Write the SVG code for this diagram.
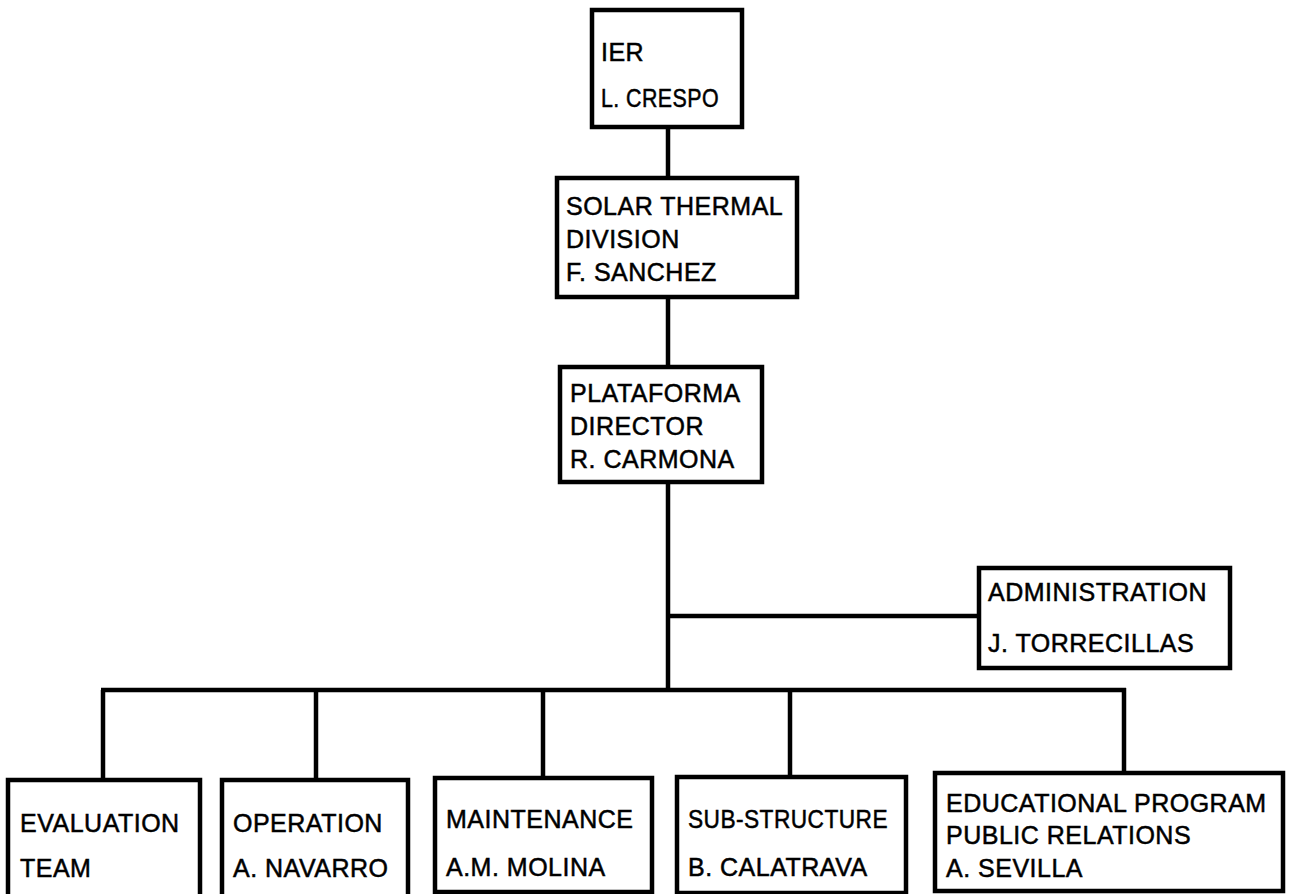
<svg xmlns="http://www.w3.org/2000/svg" width="1301" height="894" viewBox="0 0 1301 894">
<style>
.box{fill:#fff;stroke:#000;stroke-width:4.5}
.ln{stroke:#000;stroke-width:4.5;fill:none}
text{font-family:"Liberation Sans",Arial,sans-serif;font-size:25px;letter-spacing:0.5px;fill:#000;stroke:#000;stroke-width:0.5}
</style>
<rect width="1301" height="894" fill="#fff"/>
<g id="connectors">
<line class="ln" x1="668" y1="127" x2="668" y2="178"/>
<line class="ln" x1="668" y1="297" x2="668" y2="367"/>
<line class="ln" x1="668" y1="482" x2="668" y2="690"/>
<line class="ln" x1="668" y1="616" x2="979" y2="616"/>
<line class="ln" x1="101" y1="690" x2="1126" y2="690"/>
<line class="ln" x1="103" y1="690" x2="103" y2="780"/>
<line class="ln" x1="316" y1="690" x2="316" y2="780"/>
<line class="ln" x1="543" y1="690" x2="543" y2="778"/>
<line class="ln" x1="790" y1="690" x2="790" y2="778"/>
<line class="ln" x1="1124" y1="688" x2="1124" y2="773"/>
</g>
<g id="ier">
<rect class="box" x="592" y="10" width="150" height="117"/>
<text x="601" y="61">IER</text>
<text x="601" y="107" textLength="118" lengthAdjust="spacingAndGlyphs">L. CRESPO</text>
</g>
<g id="solar">
<rect class="box" x="557" y="178" width="240" height="119"/>
<text x="566" y="215">SOLAR THERMAL</text>
<text x="566" y="248">DIVISION</text>
<text x="566" y="281">F. SANCHEZ</text>
</g>
<g id="plataforma">
<rect class="box" x="560" y="367" width="202" height="115"/>
<text x="570" y="402">PLATAFORMA</text>
<text x="570" y="435">DIRECTOR</text>
<text x="570" y="468">R. CARMONA</text>
</g>
<g id="admin">
<rect class="box" x="979" y="568" width="251" height="100"/>
<text x="988" y="601">ADMINISTRATION</text>
<text x="988" y="652">J. TORRECILLAS</text>
</g>
<g id="evaluation">
<rect class="box" x="8" y="780" width="192" height="120"/>
<text x="20" y="832">EVALUATION</text>
<text x="20" y="877">TEAM</text>
</g>
<g id="operation">
<rect class="box" x="222" y="780" width="186" height="120"/>
<text x="233" y="832">OPERATION</text>
<text x="233" y="877">A. NAVARRO</text>
</g>
<g id="maintenance">
<rect class="box" x="435" y="778" width="217" height="114"/>
<text x="446" y="828">MAINTENANCE</text>
<text x="446" y="876">A.M. MOLINA</text>
</g>
<g id="substructure">
<rect class="box" x="677" y="777" width="229" height="116"/>
<text x="688" y="828" textLength="200" lengthAdjust="spacingAndGlyphs">SUB-STRUCTURE</text>
<text x="688" y="876">B. CALATRAVA</text>
</g>
<g id="educational">
<rect class="box" x="935" y="773" width="348" height="118"/>
<text x="946" y="812">EDUCATIONAL PROGRAM</text>
<text x="946" y="844">PUBLIC RELATIONS</text>
<text x="946" y="877">A. SEVILLA</text>
</g>
</svg>
